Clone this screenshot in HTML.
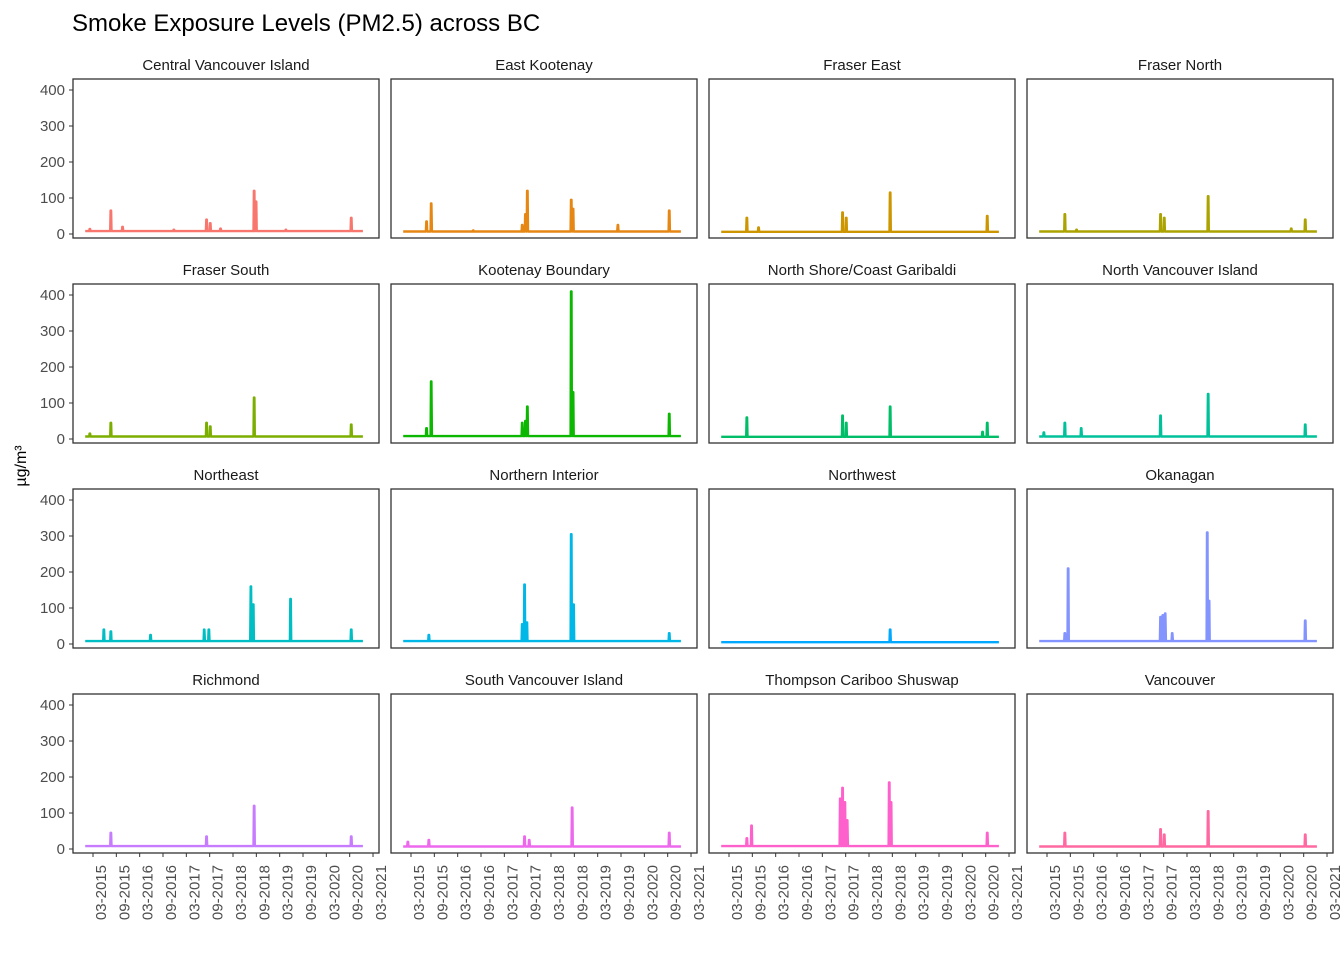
<!DOCTYPE html>
<html><head><meta charset="utf-8"><style>
body{margin:0;background:#fff;}
svg{display:block;font-family:"Liberation Sans",sans-serif;}
</style></head><body>
<svg id="c" width="1344" height="960"></svg>
<script>
const regions=["Central Vancouver Island","East Kootenay","Fraser East","Fraser North","Fraser South","Kootenay Boundary","North Shore/Coast Garibaldi","North Vancouver Island","Northeast","Northern Interior","Northwest","Okanagan","Richmond","South Vancouver Island","Thompson Cariboo Shuswap","Vancouver"];
const colors=["#F8766D","#E68613","#CD9600","#ABA300","#7CAE00","#0CB702","#00BE67","#00C19A","#00BFC4","#00B8E7","#00A9FF","#8494FF","#C77CFF","#ED68ED","#FF61CC","#FF68A1"];
const baseline=[8,7,6,7,7,8,6,7,8,8,5,8,8,7,8,7];
const spikes=[
[[2015.1,14],[2015.55,65],[2015.8,20],[2016.9,12],[2017.6,40],[2017.68,30],[2017.9,15],[2018.62,120],[2018.66,90],[2019.3,12],[2020.7,45]],
[[2015.5,35],[2015.6,85],[2016.5,10],[2017.55,25],[2017.62,55],[2017.66,120],[2018.6,95],[2018.64,70],[2019.6,25],[2020.7,65]],
[[2015.55,45],[2015.8,18],[2017.6,60],[2017.68,45],[2018.62,115],[2020.7,50]],
[[2015.55,55],[2015.8,12],[2017.6,55],[2017.68,45],[2018.62,105],[2020.4,15],[2020.7,40]],
[[2015.1,15],[2015.55,45],[2017.6,45],[2017.68,35],[2018.62,115],[2020.7,40]],
[[2015.5,30],[2015.6,160],[2017.55,45],[2017.62,50],[2017.66,90],[2018.6,410],[2018.64,130],[2020.7,70]],
[[2015.55,60],[2017.6,65],[2017.68,45],[2018.62,90],[2020.6,20],[2020.7,45]],
[[2015.1,18],[2015.55,45],[2015.9,30],[2017.6,65],[2018.62,125],[2020.7,40]],
[[2015.4,40],[2015.55,35],[2016.4,25],[2017.55,40],[2017.65,40],[2018.55,160],[2018.6,110],[2019.4,125],[2020.7,40]],
[[2015.55,25],[2017.55,55],[2017.6,165],[2017.65,60],[2018.6,305],[2018.65,110],[2020.7,30]],
[[2018.62,40]],
[[2015.55,30],[2015.62,210],[2017.6,75],[2017.65,80],[2017.7,85],[2017.85,30],[2018.6,310],[2018.64,120],[2020.7,65]],
[[2015.55,45],[2017.6,35],[2018.62,120],[2020.7,35]],
[[2015.1,20],[2015.55,25],[2017.6,35],[2017.7,25],[2018.62,115],[2020.7,45]],
[[2015.55,30],[2015.65,65],[2017.55,140],[2017.6,170],[2017.65,130],[2017.7,80],[2018.6,185],[2018.64,130],[2020.7,45]],
[[2015.55,45],[2017.6,55],[2017.68,40],[2018.62,105],[2020.7,40]]
];
const yTicks=[0,100,200,300,400];
const xTicks=["03-2015","09-2015","03-2016","09-2016","03-2017","09-2017","03-2018","09-2018","03-2019","09-2019","03-2020","09-2020","03-2021"];
const xTickVals=[2015.167,2015.667,2016.167,2016.667,2017.167,2017.667,2018.167,2018.667,2019.167,2019.667,2020.167,2020.667,2021.167];
const dateStart=2015.0,dateEnd=2020.95;

const NS="http://www.w3.org/2000/svg";
const svg=document.getElementById('c');
function mk(t,a,p){const e=document.createElementNS(NS,t);for(const k in a)e.setAttribute(k,a[k]);(p||svg).appendChild(e);return e;}
const colX=[73,391,709,1027],rowY=[79,284,489,694],PW=306,PH=159;
const t=mk('text',{x:72,y:31,'font-size':24,fill:'#000'});t.textContent="Smoke Exposure Levels (PM2.5) across BC";


const yt=mk('text',{transform:'translate(26,466) rotate(-90)','text-anchor':'middle','font-size':16,fill:'#000'});yt.textContent="µg/m³";


regions.forEach((r,i)=>{
  const c=i%4,rw=Math.floor(i/4),x0=colX[c],y0=rowY[rw];
  const xs=d=>x0+20+(d-2015.167)*46.67;
  const ys=v=>y0+155-v*0.36;
  const g=mk('g',{});
  
  
  const st=mk('text',{x:x0+PW/2,y:y0-9,'text-anchor':'middle','font-size':15,fill:'#1a1a1a'},g);st.textContent=r;
  
  
  const b=baseline[i];let pts=[[dateStart,b]];
  spikes[i].forEach(([d,v])=>{pts.push([d-0.014,b],[d-0.005,v],[d+0.005,v],[d+0.014,b]);});
  pts.push([dateEnd,b]);pts.sort((a,b)=>a[0]-b[0]);
  const p=mk('path',{d:'M'+pts.map(q=>xs(q[0]).toFixed(1)+','+ys(q[1]).toFixed(1)).join('L'),fill:'none',stroke:colors[i],'stroke-width':2.4,'stroke-linejoin':'round'},g);
  
  
  const bd=mk('rect',{x:x0,y:y0,width:PW,height:PH,fill:'none',stroke:'#333','stroke-width':1.3},g);
  
  
  if(c===0){yTicks.forEach(v=>{mk('line',{x1:x0-4,x2:x0,y1:ys(v),y2:ys(v),stroke:'#333'},g);
    const l=mk('text',{x:x0-8,y:ys(v)+5,'text-anchor':'end','font-size':15,fill:'#4d4d4d'},g);l.textContent=v;
    
    });}
  if(rw===3){xTicks.forEach((lab,k)=>{const xx=xs(xTickVals[k]);mk('line',{x1:xx,x2:xx,y1:y0+PH,y2:y0+PH+4,stroke:'#333'},g);
    const l=mk('text',{transform:`translate(${xx+13},${y0+PH+12}) rotate(-90)`,'text-anchor':'end','font-size':15,fill:'#4d4d4d'},g);l.textContent=lab;
    
    });}
});
</script>
</body></html>
